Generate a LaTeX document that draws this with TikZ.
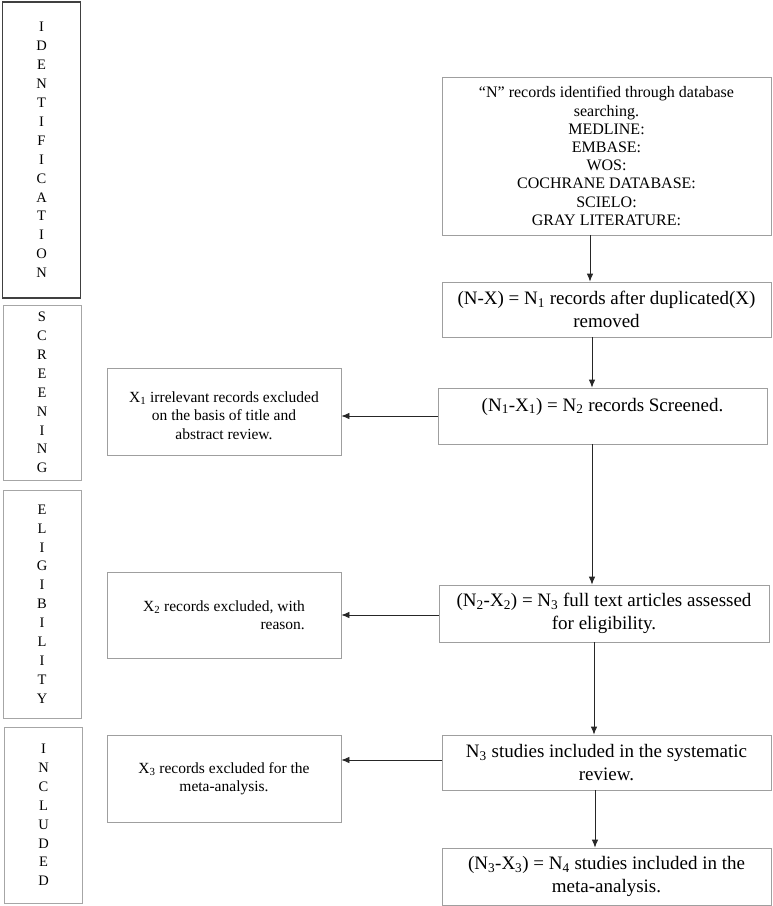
\documentclass[tikz,border=0pt]{standalone}
\usepackage{fontspec}
\setmainfont{Liberation Serif}
\usetikzlibrary{arrows.meta}

\newcommand{\sub}[1]{\textsubscript{#1}}

\begin{document}
\begin{tikzpicture}[x=1pt,y=-1pt,
    stagebox/.style={draw=gray!70,line width=0.8pt,inner sep=0pt,align=center,
      minimum width=78pt,font=\fontsize{14.5}{18.9}\selectfont},
    mainbox/.style={draw=gray!75,line width=0.8pt,inner sep=0pt,align=center,
      minimum width=329pt,font=\fontsize{19}{23}\selectfont},
    sidebox/.style={draw=gray!75,line width=0.8pt,inner sep=0pt,align=center,
      minimum width=234pt,minimum height=87pt,font=\fontsize{15.5}{18.5}\selectfont},
    arr/.style={draw=black!85,line width=0.8pt,-{Latex[length=8pt,width=6.5pt]}}]
    \useasboundingbox (0,0) rectangle (772,906);

    % stages on the left
    \node [stagebox,draw=black!75,line width=1.3pt,minimum height=296pt] (ident) at (41.5,150)
        {I\\D\\E\\N\\T\\I\\F\\I\\C\\A\\T\\I\\O\\N};
    \node [stagebox,minimum height=175pt] (screen) at (42,392.5)
        {S\\C\\R\\E\\E\\N\\I\\N\\G};
    \node [stagebox,minimum height=228pt] (elig) at (42,604)
        {E\\L\\I\\G\\I\\B\\I\\L\\I\\T\\Y};
    \node [stagebox,minimum height=176pt] (incl) at (43.5,815)
        {I\\N\\C\\L\\U\\D\\E\\D};

    % main column
    \node [mainbox,minimum height=158pt,font=\fontsize{16}{18.2}\selectfont] (search) at (606.5,156)
        {“N” records identified through database\\searching.\\MEDLINE:\\EMBASE:\\WOS:\\COCHRANE DATABASE:\\SCIELO:\\GRAY LITERATURE:};
    \node [mainbox,minimum height=55pt] (nodup) at (606.5,309.5)
        {(N-X) = N\sub{1} records after duplicated(X)\\removed};
    \node [mainbox,minimum height=56pt] (screened) at (602.5,416)
        {(N\sub{1}-X\sub{1}) = N\sub{2} records Screened.\\~};
    \node [mainbox,minimum height=57pt,minimum width=330pt] (fulltext) at (604,613.5)
        {(N\sub{2}-X\sub{2}) = N\sub{3} full text articles assessed\\for eligibility.};
    \node [mainbox,minimum height=55pt] (review) at (606.5,762.5)
        {N\sub{3} studies included in the systematic\\review.};
    \node [mainbox,minimum height=57pt] (meta) at (606.5,876.5)
        {(N\sub{3}-X\sub{3}) = N\sub{4} studies included in the\\meta-analysis.};

    % excluded records
    \node [sidebox] (excl1) at (224,411.5)
        {~\\X\sub{1} irrelevant records excluded\\on the basis of title and\\abstract review.};
    \node [sidebox,minimum height=86pt,align=right] (excl2) at (224,615)
        {X\sub{2} records excluded, with\\reason.};
    \node [sidebox] (excl3) at (224,778.5)
        {X\sub{3} records excluded for the\\meta-analysis.};

    % arrows
    \draw [arr] ([xshift=-16.5pt]search.south) -- ([xshift=-16.5pt]search.south |- nodup.north);
    \draw [arr] ([xshift=-14.5pt]nodup.south) -- ([xshift=-14.5pt]nodup.south |- screened.north);
    \draw [arr] ([xshift=-10.5pt]screened.south) -- ([xshift=-10.5pt]screened.south |- fulltext.north);
    \draw [arr] ([xshift=-10pt]fulltext.south) -- ([xshift=-10pt]fulltext.south |- review.north);
    \draw [arr] ([xshift=-11.5pt]review.south) -- ([xshift=-11.5pt]review.south |- meta.north);
    \draw [arr] (screened.west) -- (screened.west -| excl1.east);
    \draw [arr] ([yshift=-1.5pt]fulltext.west) -- ([yshift=-1.5pt]fulltext.west -| excl2.east);
    \draw [arr] ([yshift=2.5pt]review.west) -- ([yshift=2.5pt]review.west -| excl3.east);
\end{tikzpicture}
\end{document}
